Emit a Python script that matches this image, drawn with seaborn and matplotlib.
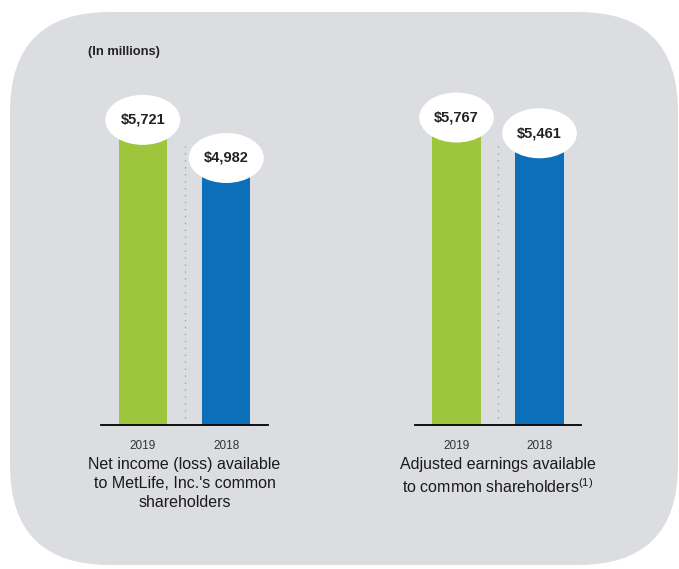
import matplotlib
matplotlib.use("Agg")
import pandas as pd
import seaborn as sns
from matplotlib import pyplot as plt
from matplotlib.patches import Ellipse, FancyBboxPatch
from matplotlib.transforms import IdentityTransform

years = ["2019", "2018"]
net_income = [5721, 4982]
adjusted_earnings = [5767, 5461]
value_labels_left = ["$5,721", "$4,982"]
value_labels_right = ["$5,767", "$5,461"]
group_titles = [
    "Net income (loss) available\nto MetLife, Inc.'s common\nshareholders",
    "Adjusted earnings available\nto common shareholders$^{\\mathregular{(1)}}$",
]

GREEN = "#9dc63c"
BLUE = "#0c6fb9"
BG = "#dcdde0"

sns.set_theme(style="white")
plt.rcParams["font.family"] = ["Liberation Sans", "DejaVu Sans"]
plt.rcParams["mathtext.fontset"] = "custom"
plt.rcParams["mathtext.rm"] = "Liberation Sans"
plt.rcParams["mathtext.default"] = "regular"

W, H = 679, 569
fig = plt.figure(figsize=(W / 100, H / 100), dpi=100)
fig.patch.set_facecolor("white")

# rounded grey panel behind everything (pixel coords)
panel = FancyBboxPatch((10, 4), 668, 553, boxstyle="round,pad=0,rounding_size=100",
                       transform=IdentityTransform(), facecolor=BG, edgecolor="none", zorder=-10)
fig.patches.append(panel)

fig.text(88 / W, 1 - 52 / H, "(In millions)", fontsize=9.3, fontweight="bold",
         color="#222222", va="center", ha="left")

YMAX = 6300
base_px, top_px = 425, 100


def draw_group(left_px, right_px, values, labels, title):
    ax = fig.add_axes([left_px / W, 1 - base_px / H, (right_px - left_px) / W,
                       (base_px - top_px) / H])
    ax.patch.set_alpha(0)
    df = pd.DataFrame({"year": years, "value": values})
    sns.barplot(data=df, x="year", y="value", hue="year", order=years, hue_order=years,
                palette=[GREEN, BLUE], width=0.58, saturation=1, legend=False,
                edgecolor="none", linewidth=0, ax=ax)
    ax.set_xlim(-0.5, 1.5)
    ax.set_ylim(0, YMAX)
    for s in ["top", "left", "right"]:
        ax.spines[s].set_visible(False)
    ax.spines["bottom"].set_color("black")
    ax.spines["bottom"].set_linewidth(1.3)
    ax.set_yticks([])
    ax.set_xlabel("")
    ax.set_ylabel("")
    ax.tick_params(axis="x", which="major", length=0, pad=11, labelsize=8.5, labelcolor="#333333")
    ax.set_xticks([0.5], minor=True)
    ax.tick_params(axis="x", which="minor", length=12, width=1.3, color="black", direction="out")
    # dotted divider between the bars
    ax.plot([0.5, 0.5], [0, max(values) * 0.95], ls=(0, (1, 4)), color="#a5a5a5", lw=1)
    # white ellipse value labels
    ell_h = 50 / (base_px - top_px) * YMAX
    for i, (v, lab) in enumerate(zip(values, labels)):
        cy = v + ell_h * 0.2
        ax.add_patch(Ellipse((i, cy), 0.9, ell_h, facecolor="white", edgecolor="none",
                             zorder=5, clip_on=False))
        ax.text(i, cy, lab, ha="center", va="center", fontsize=10.5, fontweight="bold",
                color="#222222", zorder=6)
    ax.text(0.5, -0.1, title, transform=ax.transAxes, ha="center", va="top",
            fontsize=11.5, color="#1a1a1a", linespacing=1.3)
    return ax


draw_group(101, 268, net_income, value_labels_left, group_titles[0])
draw_group(415, 581, adjusted_earnings, value_labels_right, group_titles[1])

fig.savefig("out.png", dpi=100, facecolor=fig.get_facecolor())
